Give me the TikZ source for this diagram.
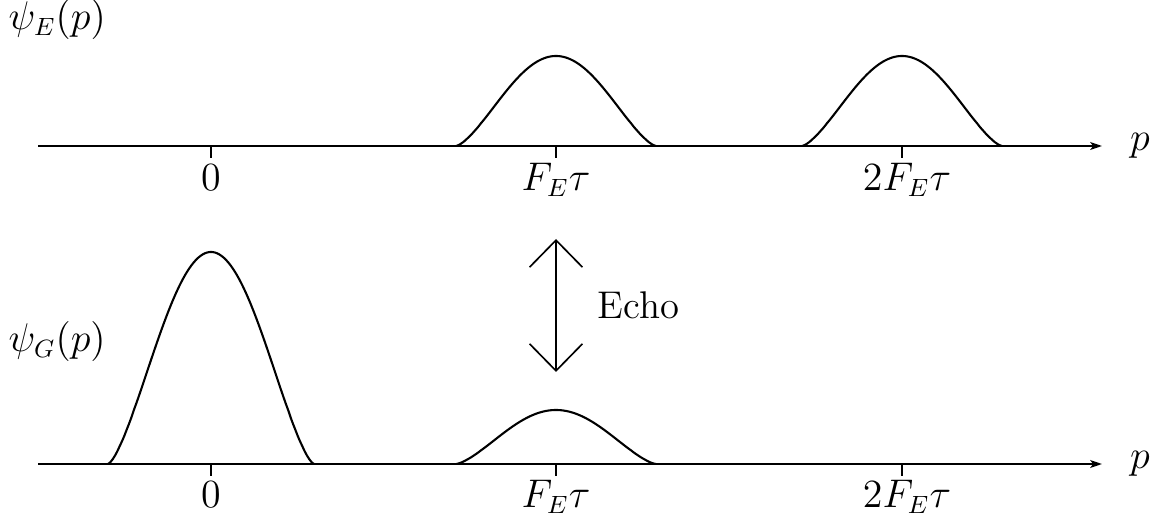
\documentclass[tikz,border=0pt]{standalone}
\usetikzlibrary{arrows.meta}
\begin{document}
\begin{tikzpicture}[x=0.36pt,y=-0.36pt,
  axisline/.style={line width=0.75pt,-{Stealth[length=4.2pt,width=2.8pt,inset=1pt]}},
  tickline/.style={line width=0.75pt},
  bump/.style={line width=0.75pt,line join=round},
  lbl/.style={inner sep=0pt,font=\fontsize{13.5}{16}\selectfont},
  echolbl/.style={inner sep=0pt,font=\fontsize{13.9}{16}\selectfont},
  echoarrow/.style={line width=0.6pt,{Straight Barb[length=9.7pt,width=19pt]}-{Straight Barb[length=9.7pt,width=19pt]}}]
\useasboundingbox (0,0) rectangle (1161,527);
% axes
\coordinate (tA) at (38,146);
\coordinate (tB) at (1102,146);
\coordinate (bA) at (38,464);
\coordinate (bB) at (1102,464);
\draw[axisline] (tA) -- (tB);
\draw[axisline] (bA) -- (bB);
\node[lbl] (pt) at (1140,146) {$p$};
\node[lbl] (pb) at (1140,464) {$p$};
% ticks
\foreach \xx/\nm in {211/a,556/b,902/c}{
  \coordinate (t\nm) at (\xx,146);
  \coordinate (t\nm e) at (\xx,158);
  \draw[tickline] (t\nm) -- (t\nm e);
  \coordinate (b\nm) at (\xx,464);
  \coordinate (b\nm e) at (\xx,476);
  \draw[tickline] (b\nm) -- (b\nm e);
}
% tick labels
\node[lbl,anchor=base] (l0t) at (211,191) {$0$};
\node[lbl,anchor=base] (l1t) at (556,191) {$F_E\tau$};
\node[lbl,anchor=base] (l2t) at (907,191) {$2F_E\tau$};
\node[lbl,anchor=base] (l0b) at (211,507) {$0$};
\node[lbl,anchor=base] (l1b) at (556,507) {$F_E\tau$};
\node[lbl,anchor=base] (l2b) at (907,507) {$2F_E\tau$};
% axis names
\node[lbl,anchor=west] (psiE) at (8,20) {$\psi_E(p)$};
\node[lbl,anchor=west] (psiG) at (8,342) {$\psi_G(p)$};
% bumps
\draw[bump] plot[domain=-99.8:99.8,samples=90,smooth] ({556+\x},{146-90*(max((1+cos(1.8*\x))/2,0.00001))^0.72});
\draw[bump] plot[domain=-99.8:99.8,samples=90,smooth] ({902+\x},{146-90*(max((1+cos(1.8*\x))/2,0.00001))^0.72});
\draw[bump] plot[domain=-102.8:102.8,samples=90,smooth] ({211+\x},{464-212*(max((1+cos(1.7476*\x))/2,0.00001))^0.72});
\draw[bump] plot[domain=-99.8:99.8,samples=90,smooth] ({556+\x},{464-54*(max((1+cos(1.8*\x))/2,0.00001))^0.72});
% echo arrow
\coordinate (eT) at (556,239);
\coordinate (eB) at (556,372);
\draw[echoarrow] (eT) -- (eB);
\node[echolbl,anchor=base west] (echo) at (597,319) {Echo};
\end{tikzpicture}
\end{document}
